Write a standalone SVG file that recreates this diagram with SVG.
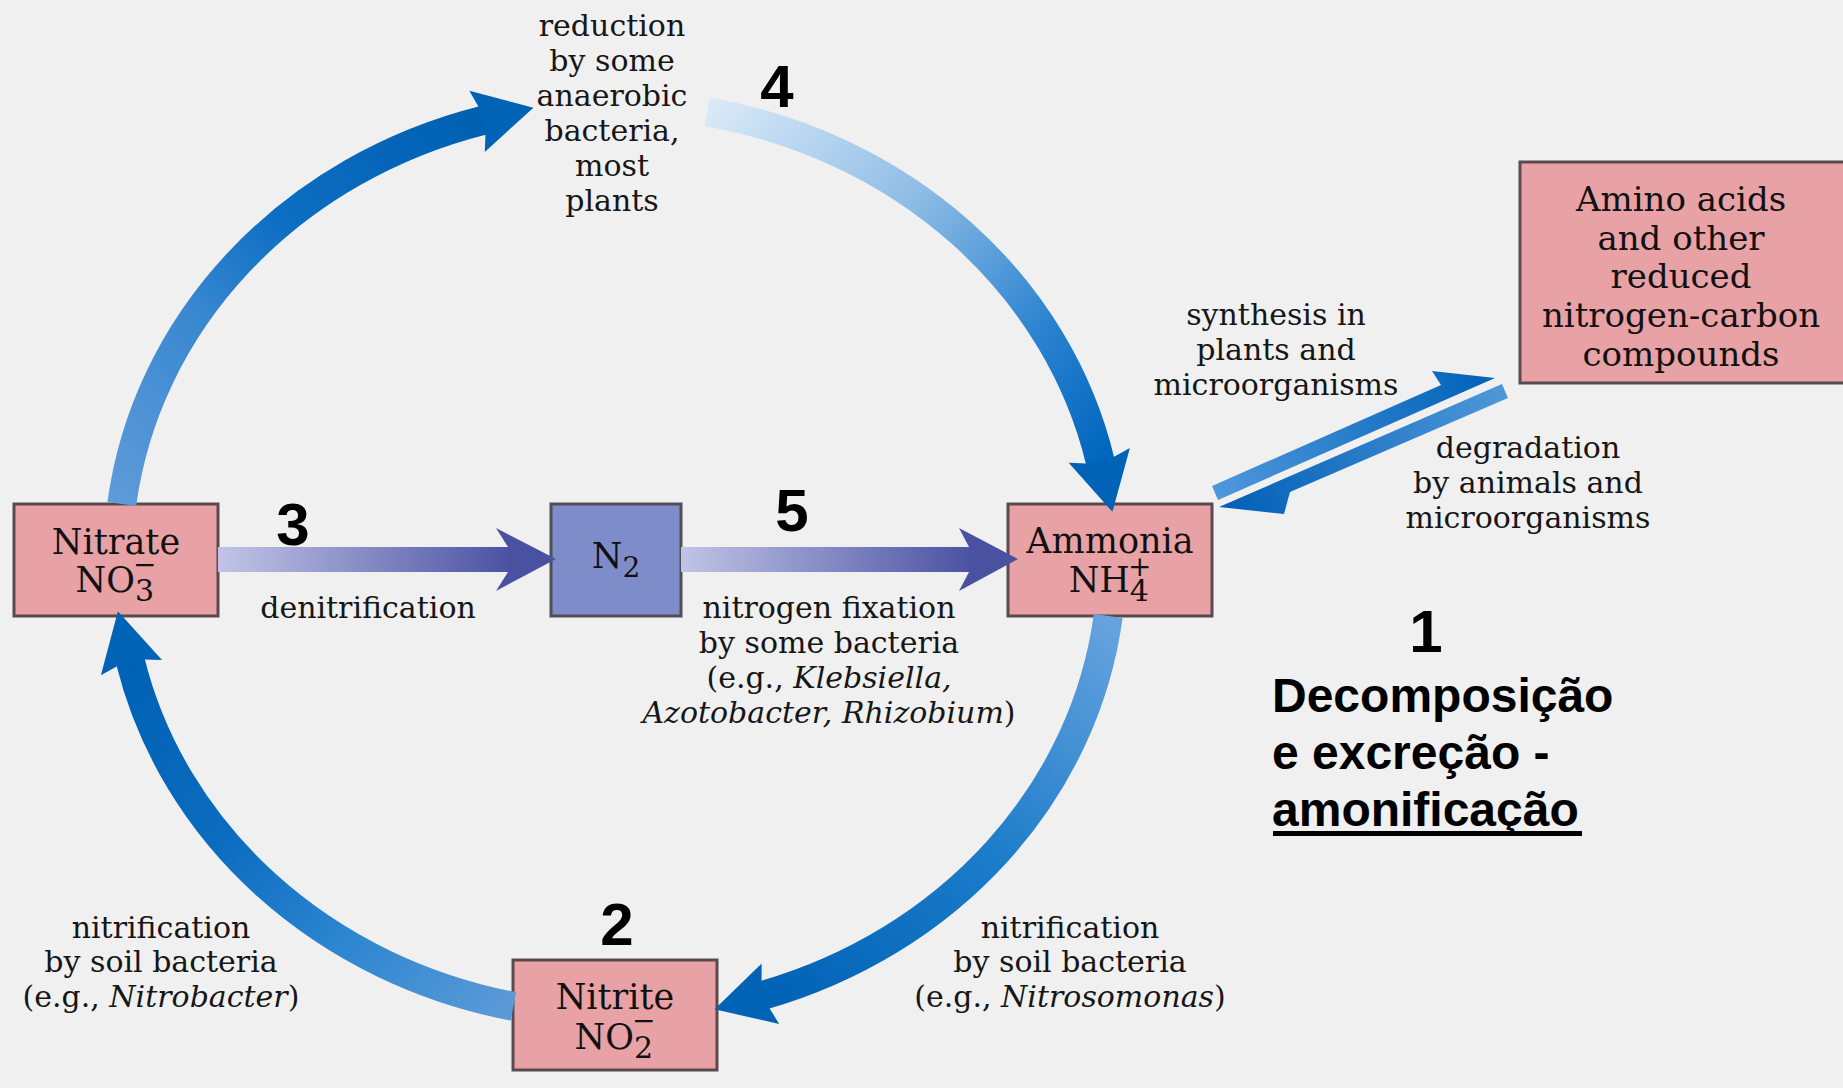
<svg xmlns="http://www.w3.org/2000/svg" width="1843" height="1088" viewBox="0 0 1843 1088">
  <style>
    .bg { fill: #f0f0f0; }
    .pink { fill: #e8a2a6; stroke: #5a4a4d; stroke-width: 3; }
    .blue { fill: #7e8dca; stroke: #4f4f58; stroke-width: 3; }
    .lbl { font-family: "DejaVu Serif", "Liberation Serif", serif; font-size: 30px; fill: #161616; text-anchor: middle; }
    .boxlbl { font-family: "DejaVu Serif", "Liberation Serif", serif; font-size: 35px; fill: #111; text-anchor: middle; }
    .amino { font-size: 34px; }
    .it { font-style: italic; }
    .num { font-family: "Liberation Sans", Arial, sans-serif; font-weight: bold; font-size: 60px; fill: #000; text-anchor: middle; }
    .pt { font-family: "Liberation Sans", Arial, sans-serif; font-weight: bold; font-size: 48px; fill: #000; }
    .arc { fill: none; stroke-width: 29; marker-end: url(#headBlue); }
  </style>
  <defs>
    <marker id="headBlue" markerUnits="userSpaceOnUse" viewBox="-10 -40 80 80" markerWidth="80" markerHeight="80" refX="0" refY="0" orient="auto" overflow="visible">
      <path d="M52,0 L-6,31 L-1,14 L-1,-14 L-6,-32 Z" fill="#0063b6"/>
    </marker>
    <linearGradient id="g1" gradientUnits="userSpaceOnUse" x1="122" y1="504" x2="483" y2="120">
      <stop offset="0" stop-color="#5d9bd9"/>
      <stop offset="0.35" stop-color="#3a88d1"/>
      <stop offset="0.6" stop-color="#0c6ec2"/>
      <stop offset="1" stop-color="#0060b2"/>
    </linearGradient>
    <linearGradient id="g2" gradientUnits="userSpaceOnUse" x1="707" y1="112" x2="1100" y2="461">
      <stop offset="0" stop-color="#d9e9f7"/>
      <stop offset="0.4" stop-color="#8fbde6"/>
      <stop offset="0.75" stop-color="#2b83d0"/>
      <stop offset="1" stop-color="#0066be"/>
    </linearGradient>
    <linearGradient id="g3" gradientUnits="userSpaceOnUse" x1="1108" y1="616" x2="765" y2="995">
      <stop offset="0" stop-color="#66a3de"/>
      <stop offset="0.5" stop-color="#1c7cca"/>
      <stop offset="1" stop-color="#0062b5"/>
    </linearGradient>
    <linearGradient id="g4" gradientUnits="userSpaceOnUse" x1="513" y1="1006" x2="130" y2="662">
      <stop offset="0" stop-color="#5b9ad8"/>
      <stop offset="0.35" stop-color="#2a84cf"/>
      <stop offset="0.65" stop-color="#0a6bbf"/>
      <stop offset="1" stop-color="#0062b5"/>
    </linearGradient>
    <linearGradient id="gDen" gradientUnits="userSpaceOnUse" x1="218" y1="0" x2="508" y2="0">
      <stop offset="0" stop-color="#c2c5e7"/>
      <stop offset="1" stop-color="#4b53a3"/>
    </linearGradient>
    <linearGradient id="gFix" gradientUnits="userSpaceOnUse" x1="681" y1="0" x2="969" y2="0">
      <stop offset="0" stop-color="#c0c4e6"/>
      <stop offset="1" stop-color="#4b53a3"/>
    </linearGradient>
    <linearGradient id="gSyn" gradientUnits="userSpaceOnUse" x1="1215" y1="495" x2="1495" y2="378">
      <stop offset="0" stop-color="#4f97da"/>
      <stop offset="1" stop-color="#0062b9"/>
    </linearGradient>
    <linearGradient id="gDeg" gradientUnits="userSpaceOnUse" x1="1505" y1="390" x2="1219" y2="507">
      <stop offset="0" stop-color="#4f97da"/>
      <stop offset="1" stop-color="#005fb6"/>
    </linearGradient>
  </defs>

  <rect class="bg" x="0" y="0" width="1843" height="1088"/>

  <!-- nodes -->
  <g id="nitrate">
    <rect class="pink" x="14" y="504" width="204" height="112"/>
    <text class="boxlbl" x="116" y="554">Nitrate</text>
    <text class="boxlbl" x="116" y="592">NO<tspan font-size="30" dy="9">3</tspan><tspan font-size="28" dx="-21" dy="-27">−</tspan></text>
  </g>
  <g id="n2">
    <rect class="blue" x="551" y="504" width="130" height="112"/>
    <text class="boxlbl" x="616" y="568" font-size="34">N<tspan font-size="28" dy="9">2</tspan></text>
  </g>
  <g id="ammonia">
    <rect class="pink" x="1008" y="504" width="204" height="112"/>
    <text class="boxlbl" x="1110" y="553">Ammonia</text>
    <text class="boxlbl" x="1110" y="592">NH<tspan font-size="30" dy="9">4</tspan><tspan font-size="28" dx="-21" dy="-25">+</tspan></text>
  </g>
  <g id="nitrite">
    <rect class="pink" x="513" y="960" width="204" height="110"/>
    <text class="boxlbl" x="615" y="1009">Nitrite</text>
    <text class="boxlbl" x="615" y="1049">NO<tspan font-size="30" dy="9">2</tspan><tspan font-size="28" dx="-21" dy="-28">−</tspan></text>
  </g>
  <g id="amino">
    <rect class="pink" x="1520" y="162" width="330" height="221"/>
    <text class="boxlbl amino" x="1681" y="211">Amino acids</text>
    <text class="boxlbl amino" x="1681" y="250">and other</text>
    <text class="boxlbl amino" x="1681" y="288">reduced</text>
    <text class="boxlbl amino" x="1681" y="327">nitrogen-carbon</text>
    <text class="boxlbl amino" x="1681" y="366">compounds</text>
  </g>

  <!-- connectors -->
  <g id="connectors">
    <path class="arc" stroke="url(#g1)" d="M121.8,504 A497,456 0 0 1 483,120.4"/>
    <path class="arc" stroke="url(#g2)" d="M707.3,111.9 A497,456 0 0 1 1100.2,461.3"/>
    <path class="arc" stroke="url(#g3)" d="M1108.2,616 A497,456 0 0 1 764.5,994.9"/>
    <path class="arc" stroke="url(#g4)" d="M513.4,1006.4 A497,456 0 0 1 130.5,661.8"/>

    <rect x="218" y="547" width="292" height="25" fill="url(#gDen)"/>
    <polygon points="496,528 556,559 496,591 508,572 508,547" fill="#4a51a1"/>

    <rect x="681" y="547" width="290" height="25" fill="url(#gFix)"/>
    <polygon points="959,528 1018,559 959,591 969,572 969,547" fill="#4a51a1"/>

    <polygon points="1218,500 1495,378 1432,371 1441,385 1212,486" fill="url(#gSyn)"/>
    <polygon points="1502,384 1219,507 1284,514 1290,492 1508,398" fill="url(#gDeg)"/>
  </g>

  <!-- edge labels -->
  <g id="labels">
    <text class="lbl" x="612" y="36">reduction</text>
    <text class="lbl" x="612" y="71">by some</text>
    <text class="lbl" x="612" y="106">anaerobic</text>
    <text class="lbl" x="612" y="141">bacteria,</text>
    <text class="lbl" x="612" y="176">most</text>
    <text class="lbl" x="612" y="211">plants</text>

    <text class="lbl" x="1276" y="325">synthesis in</text>
    <text class="lbl" x="1276" y="360">plants and</text>
    <text class="lbl" x="1276" y="395">microorganisms</text>

    <text class="lbl" x="1528" y="458">degradation</text>
    <text class="lbl" x="1528" y="493">by animals and</text>
    <text class="lbl" x="1528" y="528">microorganisms</text>

    <text class="lbl" x="368" y="618">denitrification</text>

    <text class="lbl" x="829" y="618">nitrogen fixation</text>
    <text class="lbl" x="829" y="653">by some bacteria</text>
    <text class="lbl" x="829" y="688">(e.g., <tspan class="it">Klebsiella,</tspan></text>
    <text class="lbl" x="829" y="723"><tspan class="it">Azotobacter, Rhizobium</tspan>)</text>

    <text class="lbl" x="161" y="938">nitrification</text>
    <text class="lbl" x="161" y="972">by soil bacteria</text>
    <text class="lbl" x="161" y="1007">(e.g., <tspan class="it">Nitrobacter</tspan>)</text>

    <text class="lbl" x="1070" y="938">nitrification</text>
    <text class="lbl" x="1070" y="972">by soil bacteria</text>
    <text class="lbl" x="1070" y="1007">(e.g., <tspan class="it">Nitrosomonas</tspan>)</text>
  </g>

  <!-- step numbers -->
  <g id="steps">
    <text class="num" x="777" y="107">4</text>
    <text class="num" x="293" y="545">3</text>
    <text class="num" x="792" y="531">5</text>
    <text class="num" x="617" y="945">2</text>
    <text class="num" x="1426" y="652">1</text>
  </g>

  <g id="note">
    <text class="pt" x="1272" y="712">Decomposição</text>
    <text class="pt" x="1272" y="769">e excreção -</text>
    <text class="pt" x="1272" y="826">amonificação</text>
    <rect x="1273" y="831" width="309" height="5" fill="#000"/>
  </g>
</svg>
